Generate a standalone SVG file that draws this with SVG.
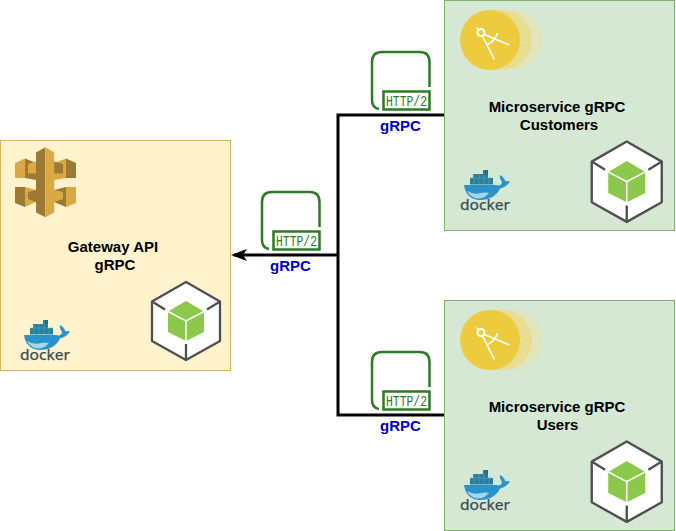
<svg xmlns="http://www.w3.org/2000/svg" width="676" height="531" viewBox="0 0 676 531">
<style>
.title{font:bold 15px "Liberation Sans",Arial,sans-serif;fill:#000;text-anchor:middle}
.grpc{font:bold 15px "Liberation Sans",Arial,sans-serif;fill:#0000cc;text-anchor:middle}
.http{font:15px "Liberation Mono","Courier New",monospace;fill:#2d7b24}
.dk{font:14.500px "Noto Sans","Liberation Sans",sans-serif;fill:#394d54;stroke:#394d54;stroke-width:.25}
.gw{fill:#fff2cc;stroke:#d6b656}
.ms{fill:#d5e8d4;stroke:#82b366}
.conn{fill:none;stroke:#000;stroke-width:3}
</style>
<defs>
<marker id="arr" markerUnits="userSpaceOnUse" markerWidth="18" markerHeight="14" refX="14" refY="7" orient="auto">
<path d="M17 7L1 1L5 7L1 13Z" fill="#000"/>
</marker>
<g id="http2">
<path d="M58.500 36V11Q58.500 1 48.500 1H11Q1 1 1 11V49Q1 57 8 58" fill="none" stroke="#2d7b24" stroke-width="2.500"/>
<rect x="12.500" y="40.500" width="46" height="18" fill="#fff" stroke="#2d7b24" stroke-width="2.500"/>
<text class="http" x="15" y="55" textLength="41" lengthAdjust="spacingAndGlyphs">HTTP/2</text>
</g>
<g id="node">
<path d="M35 1L69 20.500V60L35 79L1 60V20.500Z" fill="#fff" stroke="#505050" stroke-width="2.300" stroke-linejoin="round"/>
<path d="M1 20.500L14 28.500M69 20.500L56 28.500M35 79V63" fill="none" stroke="#505050" stroke-width="2.300"/>
<path d="M35 20L53 30.500V51L35 60L17 51V30.500Z" fill="#8cc84b"/>
<path d="M17 30.500L35 40L53 30.500M35 40V60" fill="none" stroke="#fff" stroke-width="1.500"/>
</g>
<g id="compassmark">
<path d="M481 33L494.300 59.300M481 33L509.300 45M487 45Q495 41 497.700 33M476.500 27.500L480 31" fill="none" stroke="#fff" stroke-width="1.500"/>
</g>
<g id="compass">
<circle cx="512" cy="40" r="30" fill="#efe0a0" opacity=".5"/>
<use href="#compassmark" x="20" opacity=".3"/>
<circle cx="502" cy="40" r="30" fill="#ecd777" opacity=".6"/>
<use href="#compassmark" x="10" opacity=".3"/>
<circle cx="490" cy="40" r="30" fill="#edca3e"/>
<use href="#compassmark"/>
<circle cx="481" cy="32.500" r="3.500" fill="#edca3e" stroke="#fff" stroke-width="2"/>
</g>
<g id="docker">
<rect x="470" y="178" width="23" height="6.500" fill="#2a7f9e"/>
<rect x="473" y="174" width="15" height="4.500" fill="#2a7f9e"/>
<rect x="483" y="170" width="5" height="4.500" fill="#1e6f90"/>
<path d="M474 174V184M479 174V184M484 170V184M470 178H493M489 178V184" stroke="#5fa8c0" stroke-width=".5" fill="none"/>
<path d="M464 185H496C499 186 502 185 502 182C500 179 499.500 177 500 175C503 176.500 505 179 505.500 181.500C507 180.500 509 181 510 181.500C507 186 503 188 500 188.500C497 196 488 200.500 479 200C470 199.500 465 193 464 185Z" fill="#2a93c9"/>
<path d="M467 191Q474 195 481 193Q486 192 489 193Q484 199 477 198.500Q470 197 467 191Z" fill="#a6d6ee"/>
<text class="dk" x="460" y="210" textLength="50" lengthAdjust="spacingAndGlyphs">docker</text>
</g>
<g id="apigw">
<path d="M15 163L25 158.500V178L15 178Z" fill="#dba943"/>
<path d="M25 158.500L36 163V180L25 178Z" fill="#9c7a33"/>
<path d="M28 164L36 161.500V173.500L28 173.500Z" fill="#dba943"/>
<path d="M15 187L25 187V207L15 203Z" fill="#9c7a33"/>
<path d="M25 187L36 190V202L25 207Z" fill="#dba943"/>
<path d="M28 192L36 190V202L28 199Z" fill="#9c7a33"/>
<path d="M76 163L66 158.500V178L76 178Z" fill="#9c7a33"/>
<path d="M66 158.500L54 163V180L66 178Z" fill="#dba943"/>
<path d="M63 164L54 161.500V173.500L63 173.500Z" fill="#9c7a33"/>
<path d="M76 187L66 187V207L76 203Z" fill="#dba943"/>
<path d="M66 187L54 190V202L66 207Z" fill="#9c7a33"/>
<path d="M63 192L54 190V202L63 199Z" fill="#dba943"/>
<path d="M45.300 147.300L36 152.500V212.500L45.300 217.300Z" fill="#9c7a33"/>
<path d="M45.300 147.300L54.300 152.500V212.500L45.300 217.300Z" fill="#dba943"/>
</g>
</defs>

<g id="connectors">
<path class="conn" d="M338 255H234" marker-end="url(#arr)"/>
<path class="conn" d="M444 115H338V415H444"/>
</g>

<g id="gateway">
<rect class="gw" x="0.500" y="140.500" width="230" height="230"/>
<use href="#apigw"/>
<text class="title" x="113" y="252">Gateway API</text>
<text class="title" x="115" y="270">gRPC</text>
<use href="#docker" x="-440" y="150"/>
<use href="#node" x="151" y="281"/>
</g>

<g id="customers">
<rect class="ms" x="444.500" y="0.500" width="230" height="230"/>
<use href="#compass"/>
<text class="title" x="557" y="112">Microservice gRPC</text>
<text class="title" x="559" y="130">Customers</text>
<use href="#docker"/>
<use href="#node" transform="translate(590.700 140.500) scale(1.030 1.030)"/>
</g>

<g id="users">
<rect class="ms" x="444.500" y="300.500" width="230" height="230"/>
<use href="#compass" y="300"/>
<text class="title" x="557" y="412">Microservice gRPC</text>
<text class="title" x="557.500" y="430">Users</text>
<use href="#docker" y="300"/>
<use href="#node" transform="translate(590.700 440.500) scale(1.030 1.030)"/>
</g>

<g id="http-gateway">
<use href="#http2" x="261" y="191"/>
<text class="grpc" x="290.500" y="271">gRPC</text>
</g>
<g id="http-customers">
<use href="#http2" x="371" y="51"/>
<text class="grpc" x="400.500" y="131">gRPC</text>
</g>
<g id="http-users">
<use href="#http2" x="371" y="351"/>
<text class="grpc" x="400.500" y="431">gRPC</text>
</g>
</svg>
